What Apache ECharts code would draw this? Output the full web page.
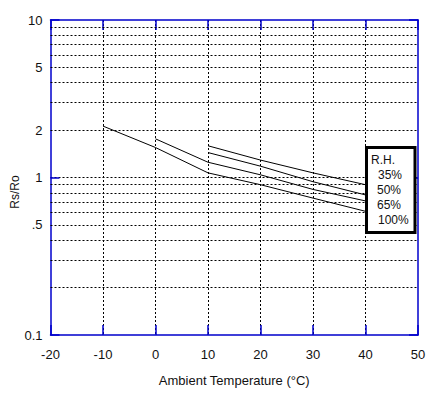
<!DOCTYPE html>
<html>
<head>
<meta charset="utf-8">
<script src="https://cdn.jsdelivr.net/npm/echarts@6/dist/echarts.min.js"></script>
<style>
html,body{margin:0;padding:0;background:#fff;}
#chart{width:439px;height:394px;}
</style>
</head>
<body>
<div id="chart"></div>
<script>
// ---- data ----
var temps = [-10, 0, 10, 20, 30, 40];
var rh35  = [null, null, 1.59, 1.29, 1.07, 0.90];
var rh50  = [null, null, 1.44, 1.18, 0.94, 0.775];
var rh65  = [null, 1.76, 1.25, 1.04, 0.84, 0.71];
var rh100 = [2.12, 1.55, 1.07, 0.90, 0.74, 0.61];
var seriesNames = ['35%', '50%', '65%', '100%'];
var legendTitle = 'R.H.';
var xTicks = [-20, -10, 0, 10, 20, 30, 40, 50];
var minorGridValues = [0.2, 0.3, 0.4, 0.5, 0.6, 0.7, 0.8, 0.9, 2, 3, 4, 5, 6, 7, 8, 9];
var minorLabels = {'0.5': '.5', '2': '2', '5': '5'};
var xTitle = 'Ambient Temperature (°C)';
var yTitle = 'Rs/Ro';

var FONT = 'Liberation Sans, Arial, sans-serif';
var BLUE = '#0000CC';
var TXT = '#111';

function pairs(vals) {
  var out = [];
  for (var i = 0; i < temps.length; i++) {
    if (vals[i] != null) out.push([temps[i], vals[i]]);
  }
  return out;
}

var allSeries = [rh35, rh50, rh65, rh100].map(function (vals, i) {
  return {
    name: seriesNames[i],
    type: 'line',
    data: pairs(vals),
    symbol: 'none',
    lineStyle: {color: '#000', width: 1},
    animation: false,
    z: 5
  };
});

allSeries.push({
  type: 'line',
  data: [],
  silent: true,
  animation: false,
  markLine: {
    silent: true,
    animation: false,
    symbol: ['none', 'none'],
    lineStyle: {color: '#000', width: 1, type: [2, 2]},
    label: {
      show: true,
      position: 'start',
      distance: 8,
      color: TXT,
      fontSize: 13,
      fontFamily: FONT,
      formatter: function (p) { return minorLabels[String(p.value)] || ''; }
    },
    emphasis: {disabled: true},
    data: minorGridValues.map(function (v) { return {yAxis: v}; })
  }
});

var chart = echarts.init(document.getElementById('chart'), null, {renderer: 'svg'});
var legendTexts = [{text: legendTitle, x: 371, y: 159.5}];
var lx = [378, 377, 377, 378];
seriesNames.forEach(function (n, i) {
  legendTexts.push({text: n, x: lx[i], y: 174.5 + i * 15});
});

chart.setOption({
  backgroundColor: '#fff',
  animation: false,
  grid: {left: 50.5, right: 21, top: 20, bottom: 59, containLabel: false},
  xAxis: [{
    type: 'value', min: -20, max: 50, interval: 10,
    name: xTitle, nameLocation: 'middle', nameGap: 39,
    nameTextStyle: {color: TXT, fontSize: 13, fontFamily: FONT},
    axisLine: {show: true, onZero: false, lineStyle: {color: BLUE, width: 1.5}},
    axisTick: {show: true, inside: true, length: 10, lineStyle: {color: BLUE, width: 1.5}},
    axisLabel: {color: TXT, fontSize: 13, fontFamily: FONT, margin: 13},
    splitLine: {show: true, showMinLine: false, showMaxLine: false, lineStyle: {color: '#000', width: 1, type: [2, 2]}}
  }, {
    type: 'value', min: -20, max: 50, interval: 10, position: 'top',
    axisLine: {show: true, onZero: false, lineStyle: {color: BLUE, width: 1.5}},
    axisTick: {show: true, inside: true, length: 10, lineStyle: {color: BLUE, width: 1.5}},
    axisLabel: {show: false},
    splitLine: {show: false}
  }],
  yAxis: [{
    type: 'log', logBase: 10, min: 0.1, max: 10,
    axisLine: {show: true, onZero: false, lineStyle: {color: BLUE, width: 1.5}},
    axisTick: {show: true, inside: true, length: 9, lineStyle: {color: BLUE, width: 1.5}},
    axisLabel: {color: TXT, fontSize: 13, fontFamily: FONT, margin: 8,
      formatter: function (v) { return Math.abs(v - 0.1) < 1e-9 ? '0.1' : String(Math.round(v)); }},
    splitLine: {show: true, showMinLine: false, showMaxLine: false, lineStyle: {color: '#000', width: 1, type: [2, 2]}},
    minorTick: {show: false}, minorSplitLine: {show: false}
  }, {
    type: 'log', logBase: 10, min: 0.1, max: 10, position: 'right',
    axisLine: {show: true, onZero: false, lineStyle: {color: BLUE, width: 1.5}},
    axisTick: {show: true, inside: true, length: 9, lineStyle: {color: BLUE, width: 1.5}},
    axisLabel: {show: false},
    splitLine: {show: false}
  }],
  series: allSeries,
  graphic: [{
    type: 'text', x: 15, y: 192, rotation: Math.PI / 2,
    style: {text: yTitle, fill: TXT, font: '12px ' + FONT, textAlign: 'center', textVerticalAlign: 'middle'},
    z: 10
  }, {
    type: 'rect',
    shape: {x: 366.5, y: 147.5, width: 48.5, height: 85},
    style: {fill: '#fff', stroke: '#000', lineWidth: 3},
    z: 20
  }].concat(legendTexts.map(function (t) {
    return {
      type: 'text', x: t.x, y: t.y, z: 21,
      style: {text: t.text, fill: TXT, font: '12px ' + FONT, textAlign: 'left', textVerticalAlign: 'middle'}
    };
  }))
});
</script>
</body>
</html>
